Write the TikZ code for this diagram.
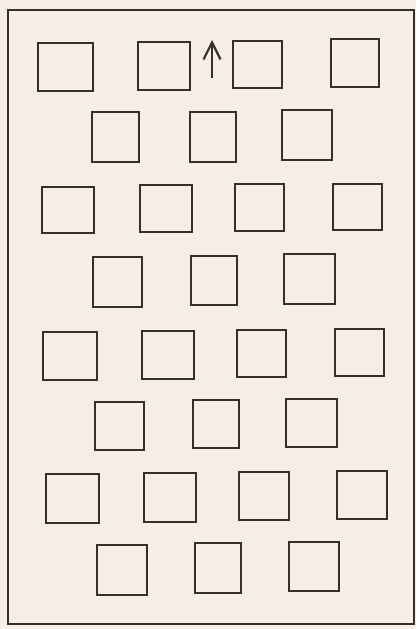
\documentclass[tikz,border=0pt]{standalone}
\usetikzlibrary{arrows.meta}
\definecolor{paper}{RGB}{246,238,228}
\definecolor{ink}{RGB}{52,48,46}
\begin{document}
\begin{tikzpicture}[x=1pt,y=-1pt,
  sq/.style 2 args={draw=ink, line width=2.2pt, minimum width=#1pt, minimum height=#2pt, inner sep=0pt, outer sep=0pt},
  frame/.style={draw=ink, line width=2.6pt},
  arr/.style={draw=ink, line width=2.2pt, -{Straight Barb[length=17pt,width=17pt,line width=2.2pt]}}]
\fill[paper] (0,0) rectangle (416,629);
\useasboundingbox (0,0) rectangle (416,629);
\draw[frame] (8,10) rectangle (414,624);
% row 1
\node[sq={55}{48}] (r1a) at (65.5,67) {};
\node[sq={52}{48}] (r1b) at (164,66) {};
\node[sq={49}{47}] (r1c) at (257.5,64.5) {};
\node[sq={48}{48}] (r1d) at (355,63) {};
% row 2
\node[sq={47}{50}] (r2a) at (115.5,137) {};
\node[sq={46}{50}] (r2b) at (213,137) {};
\node[sq={50}{50}] (r2c) at (307,135) {};
% row 3
\node[sq={52}{46}] (r3a) at (68,210) {};
\node[sq={52}{47}] (r3b) at (166,208.5) {};
\node[sq={49}{47}] (r3c) at (259.5,207.5) {};
\node[sq={49}{46}] (r3d) at (357.5,207) {};
% row 4
\node[sq={49}{50}] (r4a) at (117.5,282) {};
\node[sq={46}{49}] (r4b) at (214,280.5) {};
\node[sq={51}{50}] (r4c) at (309.5,279) {};
% row 5
\node[sq={54}{48}] (r5a) at (70,356) {};
\node[sq={52}{48}] (r5b) at (168,355) {};
\node[sq={49}{47}] (r5c) at (261.5,353.5) {};
\node[sq={49}{47}] (r5d) at (359.5,352.5) {};
% row 6
\node[sq={49}{48}] (r6a) at (119.5,426) {};
\node[sq={46}{48}] (r6b) at (216,424) {};
\node[sq={51}{48}] (r6c) at (311.5,423) {};
% row 7
\node[sq={53}{49}] (r7a) at (72.5,498.5) {};
\node[sq={52}{49}] (r7b) at (170,497.5) {};
\node[sq={50}{48}] (r7c) at (264,496) {};
\node[sq={50}{48}] (r7d) at (362,495) {};
% row 8
\node[sq={50}{50}] (r8a) at (122,570) {};
\node[sq={46}{50}] (r8b) at (218,568) {};
\node[sq={50}{49}] (r8c) at (314,566.5) {};
% arrow
\coordinate (atail) at (212,78);
\coordinate (ahead) at (212,40);
\draw[arr] (atail) -- (ahead);
\end{tikzpicture}
\end{document}
